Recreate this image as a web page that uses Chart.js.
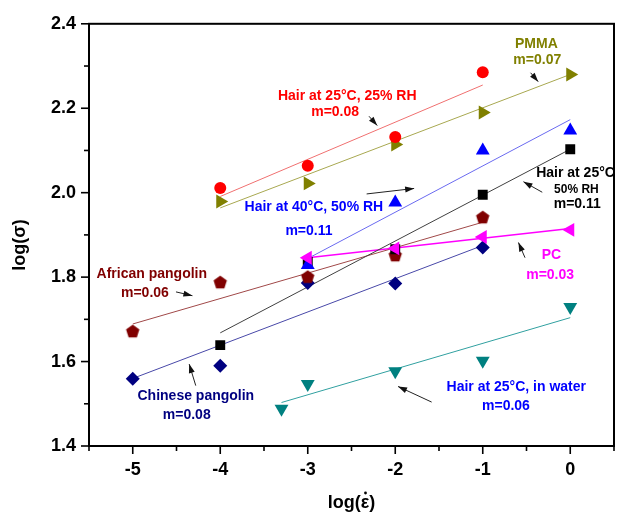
<!DOCTYPE html>
<html>
<head>
<meta charset="utf-8">
<script src="https://cdn.jsdelivr.net/npm/chart.js@4.4.0/dist/chart.umd.min.js"></script>
<style>
body { margin: 0; background: #fff; }
#contenedor { width: 627px; height: 516px; }
</style>
</head>
<body>
<div id="contenedor"><canvas id="grafico" width="627" height="516"></canvas></div>
<script>
// datos: log(tasa de deformacion) vs log(esfuerzo)
var xHair25 = [-4, -3, -2, -1];
var yHair25 = [2.011, 2.064, 2.132, 2.285];
var xPMMA = [-4, -3, -2, -1, 0];
var yPMMA = [1.979, 2.022, 2.114, 2.19, 2.28];
var xHair40 = [-3, -2, -1, 0];
var yHair40 = [1.829, 1.977, 2.10, 2.147];
var xHair50 = [-4, -3, -2, -1, 0];
var yHair50 = [1.639, 1.836, 1.866, 1.995, 2.103];
var xAfricano = [-5, -4, -3, -2, -1];
var yAfricano = [1.672, 1.788, 1.801, 1.852, 1.942];
var xPC = [-3, -2, -1, 0];
var yPC = [1.846, 1.868, 1.895, 1.912];
var xChino = [-5, -4, -3, -2, -1];
var yChino = [1.559, 1.59, 1.786, 1.785, 1.87];
var xAgua = [-3.3, -3, -2, -1, 0];
var yAgua = [1.488, 1.547, 1.577, 1.602, 1.729];

// rectas de ajuste (extremos)
var ajHair25X = [-4, -1], ajHair25Y = [1.991, 2.255];
var ajPMMAX = [-4, 0], ajPMMAY = [1.964, 2.28];
var ajHair40X = [-3, 0], ajHair40Y = [1.844, 2.173];
var ajHair50X = [-4, 0], ajHair50Y = [1.668, 2.103];
var ajAfricanoX = [-5, -1], ajAfricanoY = [1.689, 1.93];
var ajPCX = [-3, 0], ajPCY = [1.846, 1.915];
var ajChinoX = [-5, -1], ajChinoY = [1.56, 1.875];
var ajAguaX = [-3.3, 0], ajAguaY = [1.503, 1.704];

// textos de las anotaciones
var notaTexto = ['Hair at 25°C, 25% RH', 'm=0.08', 'PMMA', 'm=0.07',
    'Hair at 40°C, 50% RH', 'm=0.11', 'Hair at 25°C', '50% RH', 'm=0.11',
    'PC', 'm=0.03', 'African pangolin', 'm=0.06', 'Chinese pangolin', 'm=0.08',
    'Hair at 25°C, in water', 'm=0.06'];
var notaX = [-2.549, -2.687, -0.387, -0.377, -2.93, -2.986, 0.06, 0.07, 0.08,
    -0.215, -0.23, -4.782, -4.861, -4.279, -4.383, -0.617, -0.735];
var notaY = [2.228, 2.191, 2.353, 2.314, 1.966, 1.909, 2.046, 2.007, 1.973,
    1.853, 1.805, 1.807, 1.761, 1.518, 1.474, 1.539, 1.494];
var notaColor = ['#FF0000', '#FF0000', '#808000', '#808000', '#0000FF', '#0000FF',
    '#000000', '#000000', '#000000', '#FF00FF', '#FF00FF', '#800000', '#800000',
    '#000080', '#000080', '#0000FF', '#0000FF'];
var notaTam = [14, 14, 14, 14, 14, 14, 14, 12, 14, 14, 14, 14, 14, 14, 14, 14, 14];

// flechas (cola -> punta)
var flechaX1 = [-2.30, -0.453, -2.327, -0.32, -0.517, -4.506, -4.28, -1.584];
var flechaY1 = [2.181, 2.284, 1.997, 2.001, 1.846, 1.765, 1.543, 1.504];
var flechaX2 = [-2.206, -0.366, -1.784, -0.535, -0.592, -4.318, -4.355, -1.968];
var flechaY2 = [2.159, 2.263, 2.010, 2.026, 1.882, 1.756, 1.594, 1.541];

function puntos(xs, ys) {
    var res = [];
    for (var i in xs) {
        res.push({ x: xs[i], y: ys[i] });
    }
    return res;
}

function pentagono(color, r) {
    var c = document.createElement('canvas');
    var s = Math.ceil(r * 2 + 2);
    c.width = s;
    c.height = s;
    var g = c.getContext('2d');
    g.fillStyle = color;
    g.beginPath();
    for (var k = 0; k < 5; k++) {
        var ang = -Math.PI / 2 + k * 2 * Math.PI / 5;
        var px = s / 2 + r * Math.cos(ang);
        var py = s / 2 + 0.5 + r * Math.sin(ang);
        if (k === 0) g.moveTo(px, py); else g.lineTo(px, py);
    }
    g.closePath();
    g.fill();
    return c;
}

function serie(xs, ys, color, estilo, radio, rot) {
    return {
        type: 'scatter',
        data: puntos(xs, ys),
        backgroundColor: color,
        borderColor: color,
        borderWidth: 0,
        pointStyle: estilo,
        pointRadius: radio,
        pointRotation: rot || 0,
        showLine: false,
        order: 1
    };
}

function recta(xs, ys, color, ancho) {
    return {
        type: 'line',
        data: puntos(xs, ys),
        borderColor: color,
        borderWidth: ancho,
        pointRadius: 0,
        fill: false,
        order: 2
    };
}

var fuente = '"Liberation Sans", Arial, sans-serif';

var anotaciones = {
    id: 'anotaciones',
    afterDraw: function(chart) {
        var ctx = chart.ctx;
        var a = chart.chartArea;
        var xs = chart.scales.x;
        var ys = chart.scales.y;
        ctx.save();
        // marco
        ctx.strokeStyle = '#000';
        ctx.lineWidth = 2;
        ctx.strokeRect(a.left, a.top, a.right - a.left, a.bottom - a.top);
        // marcas de los ejes
        ctx.lineWidth = 1.6;
        xs.ticks.forEach(function(t) {
            var px = xs.getPixelForValue(t.value);
            var largo = Math.abs(t.value - Math.round(t.value)) < 1e-6 ? 8 : 5;
            ctx.beginPath();
            ctx.moveTo(px, a.bottom);
            ctx.lineTo(px, a.bottom + largo);
            ctx.stroke();
        });
        ys.ticks.forEach(function(t) {
            var py = ys.getPixelForValue(t.value);
            var largo = Math.round(t.value * 10) % 2 === 0 ? 8 : 5;
            ctx.beginPath();
            ctx.moveTo(a.left, py);
            ctx.lineTo(a.left - largo, py);
            ctx.stroke();
        });
        // titulos de los ejes
        ctx.fillStyle = '#000';
        ctx.font = 'bold 18px ' + fuente;
        ctx.textBaseline = 'middle';
        ctx.textAlign = 'left';
        var w1 = ctx.measureText('log(').width;
        var w2 = ctx.measureText('ε').width;
        var w3 = ctx.measureText(')').width;
        var x0 = (a.left + a.right) / 2 - (w1 + w2 + w3) / 2;
        var yt = 503;
        ctx.fillText('log(', x0, yt);
        ctx.fillText('ε', x0 + w1, yt);
        ctx.fillText(')', x0 + w1 + w2, yt);
        ctx.beginPath();
        ctx.arc(x0 + w1 + w2 / 2 + 0.5, yt - 10, 1.4, 0, 2 * Math.PI);
        ctx.fill();
        ctx.save();
        ctx.translate(20, 245);
        ctx.rotate(-Math.PI / 2);
        ctx.textAlign = 'center';
        ctx.fillText('log(σ)', 0, 0);
        ctx.restore();
        // flechas
        ctx.strokeStyle = '#222';
        ctx.fillStyle = '#111';
        ctx.lineWidth = 1;
        for (var i = 0; i < flechaX1.length; i++) {
            var x1 = xs.getPixelForValue(flechaX1[i]);
            var y1 = ys.getPixelForValue(flechaY1[i]);
            var x2 = xs.getPixelForValue(flechaX2[i]);
            var y2 = ys.getPixelForValue(flechaY2[i]);
            var ang = Math.atan2(y2 - y1, x2 - x1);
            ctx.beginPath();
            ctx.moveTo(x1, y1);
            ctx.lineTo(x2, y2);
            ctx.stroke();
            ctx.beginPath();
            ctx.moveTo(x2, y2);
            ctx.lineTo(x2 - 9 * Math.cos(ang) + 3 * Math.sin(ang), y2 - 9 * Math.sin(ang) - 3 * Math.cos(ang));
            ctx.lineTo(x2 - 9 * Math.cos(ang) - 3 * Math.sin(ang), y2 - 9 * Math.sin(ang) + 3 * Math.cos(ang));
            ctx.closePath();
            ctx.fill();
        }
        // textos
        ctx.textAlign = 'center';
        ctx.textBaseline = 'middle';
        for (var j = 0; j < notaTexto.length; j++) {
            ctx.font = 'bold ' + notaTam[j] + 'px ' + fuente;
            ctx.fillStyle = notaColor[j];
            ctx.fillText(notaTexto[j], xs.getPixelForValue(notaX[j]), ys.getPixelForValue(notaY[j]));
        }
        ctx.restore();
    }
};

var datos = {
    datasets: [
        serie(xPC, yPC, '#FF00FF', 'triangle', 8, -90),
        serie(xHair40, yHair40, '#0000FF', 'triangle', 8, 0),
        serie(xHair50, yHair50, '#000000', 'rect', 7, 0),
        serie(xHair25, yHair25, '#FF0000', 'circle', 6, 0),
        serie(xPMMA, yPMMA, '#808000', 'triangle', 8, 90),
        serie(xAfricano, yAfricano, '#800000', pentagono('#800000', 7), 7, 0),
        serie(xChino, yChino, '#000080', 'rectRot', 7, 0),
        serie(xAgua, yAgua, '#008080', 'triangle', 8, 180),
        recta(ajHair25X, ajHair25Y, '#F07070', 1),
        recta(ajPMMAX, ajPMMAY, '#A8A850', 1),
        recta(ajHair40X, ajHair40Y, '#6A6AF0', 1),
        recta(ajHair50X, ajHair50Y, '#404040', 1),
        recta(ajAfricanoX, ajAfricanoY, '#A04848', 1),
        recta(ajPCX, ajPCY, '#FF00FF', 1.6),
        recta(ajChinoX, ajChinoY, '#4848A8', 1),
        recta(ajAguaX, ajAguaY, '#30A0A0', 1)
    ]
};

var grafico = new Chart(document.getElementById('grafico'), {
    type: 'scatter',
    data: datos,
    plugins: [anotaciones],
    options: {
        responsive: false,
        animation: false,
        events: [],
        layout: { padding: { top: 20, right: 8, left: 0, bottom: 0 } },
        plugins: {
            legend: { display: false },
            tooltip: { enabled: false }
        },
        scales: {
            x: {
                type: 'linear',
                min: -5.5,
                max: 0.5,
                afterFit: function(s) { s.height = 70; },
                grid: { display: false, drawTicks: false },
                border: { display: false },
                ticks: {
                    stepSize: 0.5,
                    autoSkip: false,
                    maxRotation: 0,
                    padding: 13,
                    color: '#000',
                    font: { family: fuente, size: 18, weight: 'bold' },
                    callback: function(v) {
                        return Math.abs(v - Math.round(v)) < 1e-6 ? String(Math.round(v)) : '';
                    }
                },
                title: { display: false, text: 'log(ε̇)' }
            },
            y: {
                type: 'linear',
                min: 1.4,
                max: 2.4,
                afterFit: function(s) { s.width = 89; },
                grid: { display: false, drawTicks: false },
                border: { display: false },
                ticks: {
                    stepSize: 0.1,
                    autoSkip: false,
                    padding: 13,
                    color: '#000',
                    font: { family: fuente, size: 18, weight: 'bold' },
                    callback: function(v) {
                        return Math.round(v * 10) % 2 === 0 ? v.toFixed(1) : '';
                    }
                },
                title: { display: false, text: 'log(σ)' }
            }
        }
    }
});
</script>
</body>
</html>
